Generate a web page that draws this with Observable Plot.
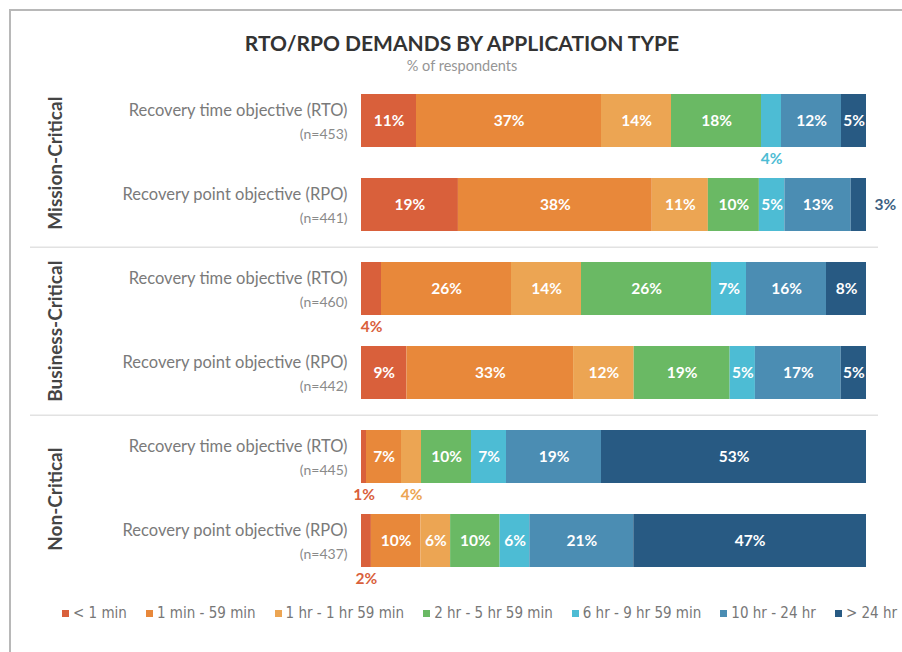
<!DOCTYPE html>
<html>
<head>
<meta charset="utf-8">
<script src="https://cdn.jsdelivr.net/npm/d3@7"></script>
<script src="https://cdn.jsdelivr.net/npm/@observablehq/plot@0.6"></script>
<style>
  html, body { margin: 0; padding: 0; background: #fff; }
  body { width: 902px; height: 652px; position: relative; overflow: hidden; font-family: Lato, "Noto Sans", sans-serif; }
  #frame { position: absolute; left: 9px; top: 9px; width: 900px; height: 660px; border-left: 2px solid #b8b8b8; border-top: 2px solid #b8b8b8; }
  #title { position: absolute; top: 30px; left: 0; width: 924px; text-align: center; font-weight: 700; font-size: 21px; color: #333; }
  #subtitle { position: absolute; top: 57px; left: 0; width: 924px; text-align: center; font-size: 14.5px; color: #959595; }
  #chart { position: absolute; top: 80px; left: 0; }
  #legend { position: absolute; top: 604px; left: 62px; display: flex; gap: 19px; font-family: "Liberation Sans Narrow", "DejaVu Sans Condensed", Lato, sans-serif; font-size: 15px; color: #777; white-space: nowrap; }
  #legend .item { display: flex; align-items: center; }
  #legend .sw { width: 7px; height: 7px; margin-right: 4px; display: inline-block; }
</style>
</head>
<body>
<div id="frame"></div>
<div id="title">RTO/RPO DEMANDS BY APPLICATION TYPE</div>
<div id="subtitle">% of respondents</div>
<div id="chart"></div>
<div id="legend"></div>
<script>
const groups = ["Mission-Critical", "Business-Critical", "Non-Critical"];
const metrics = ["Recovery time objective (RTO)", "Recovery point objective (RPO)"];
const respondents = [453, 441, 460, 442, 445, 437];
const categories = ["< 1 min", "1 min - 59 min", "1 hr - 1 hr 59 min", "2 hr - 5 hr 59 min", "6 hr - 9 hr 59 min", "10 hr - 24 hr", "> 24 hr"];
const colors = ["#d9603b", "#e8883a", "#eca553", "#6ab964", "#4dbcd4", "#4b8db3", "#285a83"];
const values = [
  [11, 37, 14, 18, 4, 12, 5],
  [19, 38, 11, 10, 5, 13, 3],
  [4, 26, 14, 26, 7, 16, 8],
  [9, 33, 12, 19, 5, 17, 5],
  [1, 7, 4, 10, 7, 19, 53],
  [2, 10, 6, 10, 6, 21, 47]
];

const rows = [];
groups.forEach((g, gi) => metrics.forEach((m, mi) => {
  const i = gi * 2 + mi;
  rows.push({key: g + "|" + m, group: g, metric: m, n: respondents[i], idx: i});
}));
const rowKeys = rows.map(r => r.key);
const data = [];
rows.forEach(r => categories.forEach((c, ci) => data.push({row: r.key, cat: c, value: values[r.idx][ci], last: ci === categories.length - 1})));

const W = 902, H = 510, mT = 13, mB = 22, pad = 0.37;
const step = (H - mT - mB) / (rowKeys.length - pad);
const bw = step * (1 - pad);

const stackOpts = {x: "value", y: "row", z: "cat", order: categories, offset: "normalize"};

const chart = Plot.plot({
  width: W, height: H,
  marginLeft: 361, marginRight: 36, marginTop: mT, marginBottom: mB,
  x: {axis: null},
  y: {axis: null, domain: rowKeys, paddingInner: pad, paddingOuter: 0},
  color: {domain: categories, range: colors},
  style: {fontFamily: "Lato, 'Noto Sans', sans-serif", overflow: "visible", background: "transparent"},
  marks: [
    Plot.ruleY([rowKeys[1], rowKeys[3]], {dy: step / 2, insetLeft: -331, insetRight: -12, stroke: "#e2e2e2", strokeWidth: 1.5}),
    Plot.barX(data, Plot.stackX({...stackOpts, fill: "cat"})),
    // inside labels
    Plot.text(data, Plot.stackX({...stackOpts, text: d => d.value >= 5 ? d.value + "%" : "", fill: "white", fontWeight: 700, fontSize: 15.5})),
    // below labels
    Plot.text(data, Plot.stackX({...stackOpts, text: d => d.value < 5 && !d.last ? d.value + "%" : "", fill: "cat", dy: bw / 2 + 11, fontWeight: 700, fontSize: 15.5})),
    // right labels
    Plot.text(data, Plot.stackX2({...stackOpts, text: d => d.value < 5 && d.last ? d.value + "%" : "", fill: "#3d5f82", dx: 8, textAnchor: "start", fontWeight: 700, fontSize: 15.5})),
    // row labels
    Plot.text(rows, {y: "key", text: "metric", frameAnchor: "left", textAnchor: "end", dx: -14, dy: -10, fontSize: 16.5, fill: "#7a7a7a"}),
    Plot.text(rows, {y: "key", text: d => "(n=" + d.n + ")", frameAnchor: "left", textAnchor: "end", dx: -14, dy: 14, fontSize: 14, fill: "#8a8a8a"}),
    // group labels
    Plot.text(rows.filter(r => r.metric === metrics[0]), {y: "key", text: "group", frameAnchor: "left", textAnchor: "middle", dy: step / 2, dx: -306, rotate: -90, fontWeight: 700, fontSize: 19, fill: "#454545"})
  ]
});
document.getElementById("chart").appendChild(chart);

const legend = document.getElementById("legend");
categories.forEach((c, i) => {
  const it = document.createElement("div");
  it.className = "item";
  const sw = document.createElement("span");
  sw.className = "sw";
  sw.style.background = colors[i];
  it.appendChild(sw);
  it.appendChild(document.createTextNode(c));
  legend.appendChild(it);
});
</script>
</body>
</html>
